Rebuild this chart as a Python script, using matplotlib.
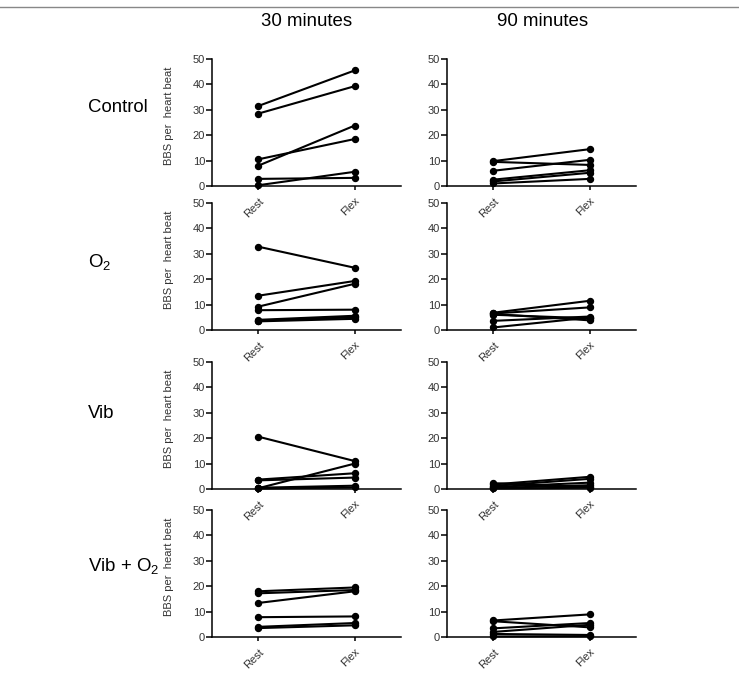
import matplotlib
matplotlib.use("Agg")
import matplotlib.pyplot as plt
from matplotlib.lines import Line2D

plt.rcParams['font.family'] = ['Liberation Sans', 'DejaVu Sans']
plt.rcParams['mathtext.default'] = 'regular'

# conditions (x categories)
conditions = ["Rest", "Flex"]
row_labels = ["Control", "O$_2$", "Vib", "Vib + O$_2$"]
col_titles = ["30 minutes", "90 minutes"]

# paired values (rest, flex) per subject, BBS per heart beat
control_30 = [(31.5, 45.5), (28.5, 39.3), (10.5, 18.5), (8.0, 23.8), (2.8, 3.2), (0.3, 5.6)]
control_90 = [(9.8, 14.5), (9.5, 8.3), (6.0, 10.3), (2.5, 6.2), (1.8, 5.2), (1.0, 2.8)]
o2_30 = [(32.8, 24.5), (13.5, 19.3), (9.2, 18.2), (7.8, 8.0), (4.0, 5.6), (3.7, 5.0), (3.4, 4.4)]
o2_90 = [(6.8, 11.5), (6.5, 8.9), (6.3, 3.8), (6.0, 4.6), (3.6, 5.3), (1.0, 4.9)]
vib_30 = [(20.6, 11.0), (0.3, 10.0), (3.7, 6.2), (3.4, 4.5), (0.5, 1.3), (0.2, 0.6)]
vib_90 = [(2.3, 0.8), (1.8, 4.8), (1.2, 4.0), (0.8, 2.5), (0.4, 1.5), (0.2, 0.5)]
vibo2_30 = [(18.0, 19.5), (17.2, 18.5), (13.4, 18.0), (7.8, 8.1), (4.0, 5.5), (3.5, 4.6)]
vibo2_90 = [(6.5, 8.9), (6.2, 3.8), (3.4, 5.5), (2.0, 4.8), (1.2, 0.8), (0.2, 0.3)]

data = [[control_30, control_90],
        [o2_30, o2_90],
        [vib_30, vib_90],
        [vibo2_30, vibo2_90]]

W, H = 739, 674
fig = plt.figure(figsize=(W / 100, H / 100), dpi=100)

# axes placement in pixels (left, top of y=50, height to y=0)
col_left = [212, 447]
ax_w = 189
row_top = [59, 203, 362, 510]
ax_h = 127

for r in range(4):
    for c in range(2):
        left = col_left[c] / W
        bottom = 1 - (row_top[r] + ax_h) / H
        ax = fig.add_axes([left, bottom, ax_w / W, ax_h / H])
        ax.patch.set_alpha(0)
        for rest, flex in data[r][c]:
            ax.plot([0, 1], [rest, flex], color='black', lw=1.5,
                    marker='o', ms=4.3, clip_on=False)
        ax.set_xlim(-0.48, 1.48)
        ax.set_ylim(0, 50)
        ax.set_yticks(range(0, 51, 10))
        ax.set_xticks([0, 1])
        ax.set_xticklabels(conditions, rotation=45, ha='right',
                           rotation_mode='anchor', fontsize=8, color='#333333')
        ax.tick_params(axis='y', labelsize=8, length=4, width=1.1, pad=1,
                       labelcolor='#333333')
        ax.tick_params(axis='x', length=3, width=1.1, pad=4)
        for s in ['top', 'right']:
            ax.spines[s].set_visible(False)
        for s in ['left', 'bottom']:
            ax.spines[s].set_linewidth(1.1)
        if c == 0:
            ax.set_ylabel("BBS per  heart beat", fontsize=8, color='#333333')
            ax.yaxis.set_label_coords(-0.2, 0.55)

# row labels
row_y = [108, 262, 413, 566]
for lab, y in zip(row_labels, row_y):
    fig.text(88 / W, 1 - y / H, lab, fontsize=13.4, ha='left', va='center')

# column titles
for t, x in zip(col_titles, [307, 543]):
    fig.text(x / W, 1 - 22 / H, t, fontsize=13.4, ha='center', va='center')

# top rule
fig.add_artist(Line2D([0, 1], [1 - 7 / H, 1 - 7 / H], color='#888888', lw=1))

fig.savefig("out.png", dpi=100)
